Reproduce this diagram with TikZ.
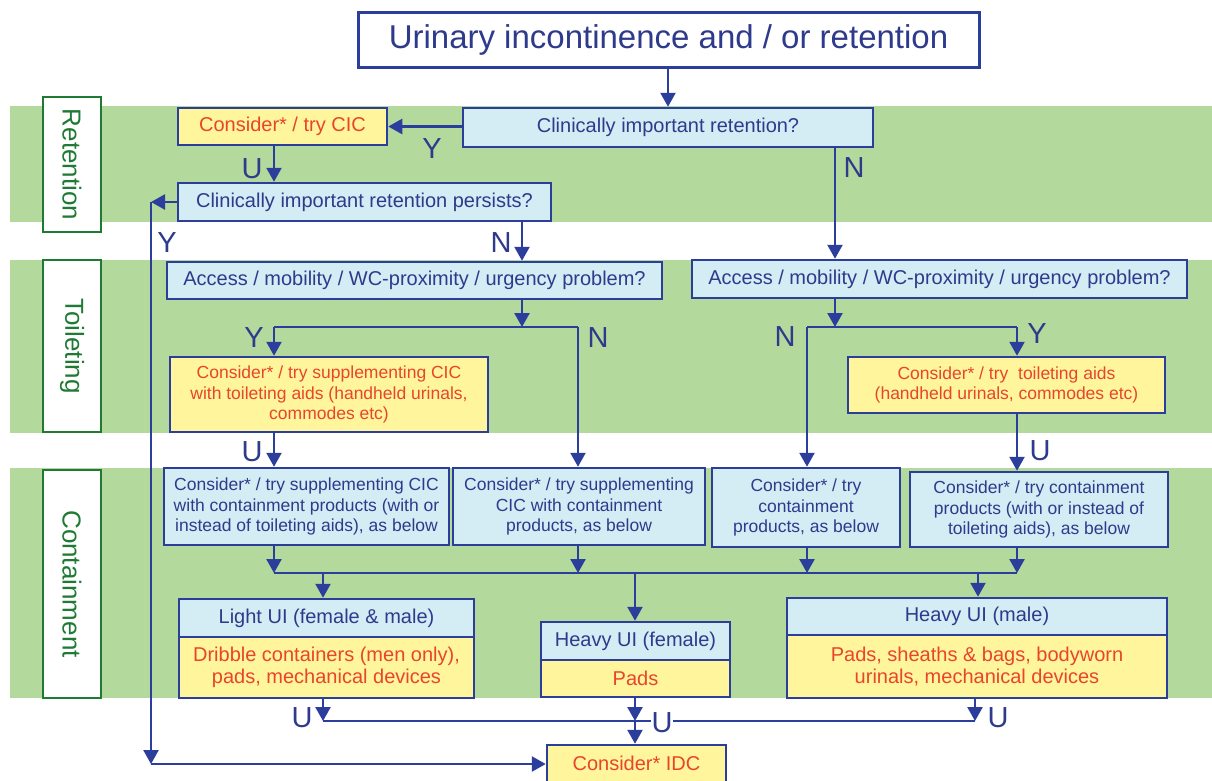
\documentclass[tikz,border=0pt]{standalone}
\usepackage{fontspec}
\setmainfont{Liberation Sans}
\usetikzlibrary{arrows.meta}
\definecolor{bandgreen}{HTML}{B4D99C}
\definecolor{lblue}{HTML}{D4ECF4}
\definecolor{lyellow}{HTML}{FFF59C}
\definecolor{dblue}{HTML}{2C3E9C}
\definecolor{tblue}{HTML}{2E3A8C}
\definecolor{tred}{HTML}{E8452C}
\definecolor{dgreen}{HTML}{1F7A34}
\begin{document}
\begin{tikzpicture}[x=1pt,y=-1pt,
 box/.style={draw=dblue,line width=2.5pt,inner sep=0pt,align=center,font=\fontsize{20}{23}\selectfont},
 qbox/.style={box,fill=lblue,text=tblue},
 ybox/.style={box,fill=lyellow,text=tred},
 smalltext/.style={font=\fontsize{17.5}{20.5}\selectfont},
 yn/.style={text=tblue,font=\fontsize{29}{31}\selectfont,inner sep=0pt},
 arr/.style={draw=dblue,line width=2.5pt,-{Triangle[length=14pt,width=15pt]}},
 ln/.style={draw=dblue,line width=2.5pt},
 band/.style={fill=bandgreen},
 stage/.style={draw=dgreen,line width=2.5pt,fill=white,text=dgreen,font=\fontsize{26}{30}\selectfont,rotate=-90,inner sep=0pt}]
\useasboundingbox (0,0) rectangle (1212,780);
\fill[white] (0,0) rectangle (1212,780);
% bands
\fill[band] (10,106) rectangle (1212,222);
\fill[band] (10,260) rectangle (1212,433);
\fill[band] (10,468) rectangle (1212,698);
% stage labels
\node[stage,minimum width=135pt,minimum height=58pt] (sret) at (72,164.5) {Retention};
\node[stage,minimum width=172pt,minimum height=58pt] (stoi) at (72,346) {Toileting};
\node[stage,minimum width=228pt,minimum height=58pt] (scon) at (72,584) {Containment};
% nodes
\node[box,line width=3pt,fill=white,text=tblue,font=\fontsize{33}{36}\selectfont,minimum width=621pt,minimum height=55pt] (title) at (668.5,39.5) {Urinary incontinence and / or retention};
\node[qbox,minimum width=410pt,minimum height=39pt] (cir) at (668,127.5) {Clinically important retention?};
\node[ybox,minimum width=209pt,minimum height=37pt] (cic) at (282.5,126.5) {Consider* / try CIC};
\node[qbox,minimum width=373pt,minimum height=38pt] (pers) at (364.5,202) {Clinically important retention persists?};
\node[qbox,minimum width=495pt,minimum height=37pt] (acc1) at (414.5,280.5) {Access / mobility / WC-proximity / urgency problem?};
\node[qbox,minimum width=495pt,minimum height=38pt] (acc2) at (939.5,279) {Access / mobility / WC-proximity / urgency problem?};
\node[ybox,smalltext,minimum width=318pt,minimum height=75pt] (aid1) at (329,394.5) {Consider* / try supplementing CIC\\with toileting aids (handheld urinals,\\commodes etc)};
\node[ybox,smalltext,minimum width=317pt,minimum height=56pt] (aid2) at (1006.5,385) {Consider* / try\ \ toileting aids\\(handheld urinals, commodes etc)};
\node[qbox,smalltext,minimum width=285pt,minimum height=77pt] (con1) at (306.5,506.5) {Consider* / try supplementing CIC\\with containment products (with or\\instead of toileting aids), as below};
\node[qbox,smalltext,minimum width=252pt,minimum height=77pt] (con2) at (579,506.5) {Consider* / try supplementing\\CIC with containment\\products, as below};
\node[qbox,smalltext,minimum width=188pt,minimum height=79pt] (con3) at (806,507.5) {Consider* / try\\containment\\products, as below};
\node[qbox,smalltext,minimum width=258pt,minimum height=75pt] (con4) at (1039,509.5) {Consider* / try containment\\products (with or instead of\\toileting aids), as below};
\node[qbox,minimum width=295pt,minimum height=38pt] (lightH) at (326.5,618) {Light UI (female \& male)};
\node[ybox,minimum width=295pt,minimum height=61pt,font=\fontsize{20}{22}\selectfont] (lightB) at (326.5,667.5) {Dribble containers (men only),\\pads, mechanical devices};
\node[qbox,minimum width=189pt,minimum height=38pt] (femH) at (635.5,641) {Heavy UI (female)};
\node[ybox,minimum width=189pt,minimum height=37pt] (femB) at (635.5,678.5) {Pads};
\node[qbox,minimum width=380pt,minimum height=37pt] (maleH) at (977,616.5) {Heavy UI (male)};
\node[ybox,minimum width=380pt,minimum height=63pt,font=\fontsize{20}{22}\selectfont] (maleB) at (977,666.5) {Pads, sheaths \& bags, bodyworn\\urinals, mechanical devices};
\node[ybox,minimum width=179pt,minimum height=37pt] (idc) at (636.5,763.5) {Consider* IDC};
% coordinates
\coordinate (ytop) at (151,202);
\coordinate (ybot) at (151,764);
\coordinate (ja) at (522,327);
\coordinate (jaL) at (274,327);
\coordinate (jaR) at (578,327);
\coordinate (jb) at (835,327);
\coordinate (jbL) at (807,327);
\coordinate (jbR) at (1017,327);
\coordinate (c1) at (274,573);
\coordinate (c2) at (578,573);
\coordinate (c3) at (807,573);
\coordinate (c4) at (1017,573);
\coordinate (d1) at (323,573);
\coordinate (d2) at (635,573);
\coordinate (d3) at (978,573);
\coordinate (e1) at (323,721);
\coordinate (e2) at (635,721);
\coordinate (e3) at (975,721);
% connectors
\draw[arr] (title.south -| cir.north) -- (cir.north);
\draw[arr] (cir.west |- cic.east) -- (cic.east);
\draw[arr] (cic.south -| jaL) -- (pers.north -| jaL);
\draw[arr] (pers.west) -- (ytop);
\draw[arr] (ytop) -- (ybot);
\draw[arr] (ybot) -- (idc.west |- ybot);
\draw[arr] (pers.south -| ja) -- (acc1.north -| ja);
\draw[arr] (cir.south -| jb) -- (acc2.north -| jb);
\draw[arr] (acc1.south -| ja) -- (ja);
\draw[ln] (jaL) -- (jaR);
\draw[arr] (jaL) -- (aid1.north -| jaL);
\draw[arr] (jaR) -- (con2.north -| jaR);
\draw[arr] (acc2.south -| jb) -- (jb);
\draw[ln] (jbL) -- (jbR);
\draw[arr] (jbR) -- (aid2.north -| jbR);
\draw[arr] (jbL) -- (con3.north -| jbL);
\draw[arr] (aid1.south -| jaL) -- (con1.north -| jaL);
\draw[arr] (aid2.south -| jbR) -- (con4.north -| jbR);
\draw[arr] (con1.south -| c1) -- (c1);
\draw[arr] (con2.south -| c2) -- (c2);
\draw[arr] (con3.south -| c3) -- (c3);
\draw[arr] (con4.south -| c4) -- (c4);
\draw[ln] (c1) -- (c4);
\draw[arr] (d1) -- (lightH.north -| d1);
\draw[arr] (d2) -- (femH.north -| d2);
\draw[arr] (d3) -- (maleH.north -| d3);
\draw[arr] (lightB.south -| e1) -- (e1);
\draw[arr] (femB.south -| e2) -- (e2);
\draw[arr] (maleB.south -| e3) -- (e3);
\draw[ln] (e1) -- (e3);
\draw[arr] (e2) -- (idc.north -| e2);
% Y/N/U labels
\node[yn] (l1) at (432,149) {Y};
\node[yn] (l2) at (252,169) {U};
\node[yn] (l3) at (167,243) {Y};
\node[yn] (l4) at (501,243) {N};
\node[yn] (l5) at (854,168) {N};
\node[yn] (l6) at (254,338) {Y};
\node[yn] (l7) at (598,338) {N};
\node[yn] (l8) at (785,337) {N};
\node[yn] (l9) at (1037,334) {Y};
\node[yn] (l10) at (252,452) {U};
\node[yn] (l11) at (1040,451) {U};
\node[yn] (l12) at (302,718) {U};
\node[yn,fill=white,inner sep=1pt] (l13) at (662,723) {U};
\node[yn] (l14) at (998,718) {U};
\end{tikzpicture}
\end{document}
